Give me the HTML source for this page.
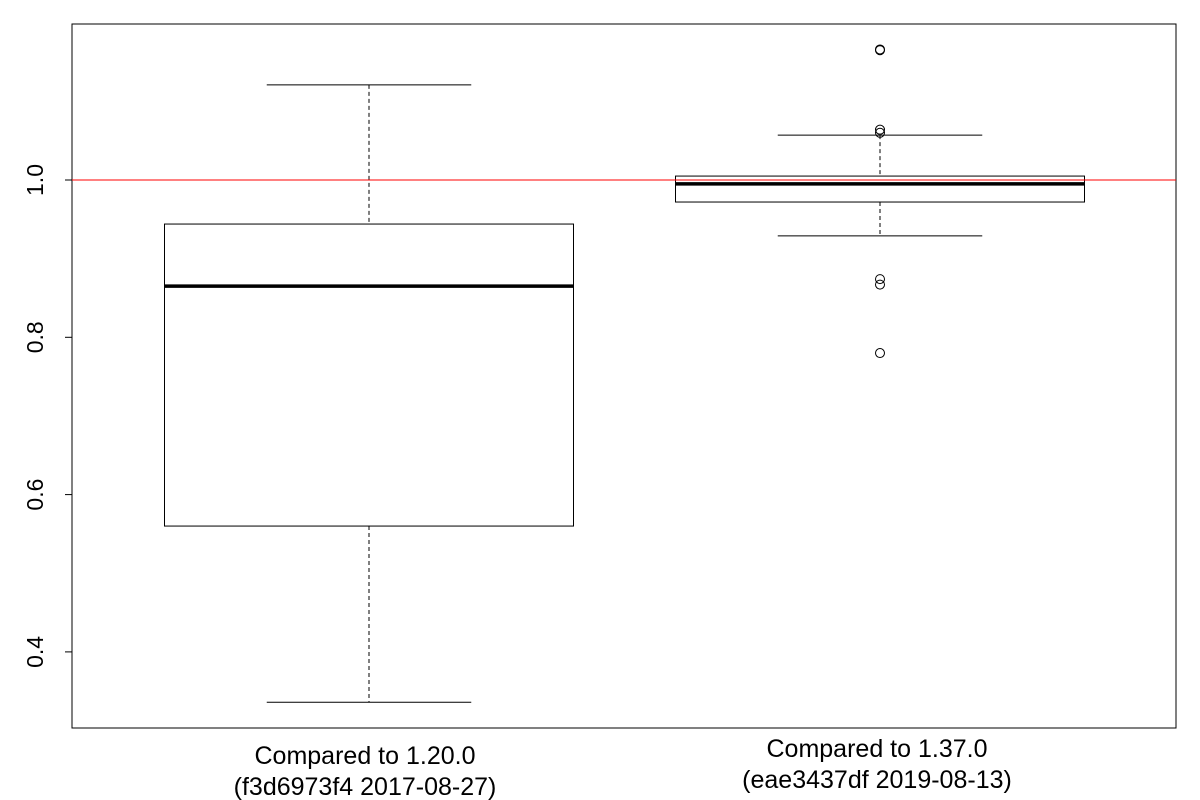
<!DOCTYPE html>
<html><head><meta charset="utf-8"><style>body{margin:0;background:#fff}svg{display:block;font-family:"Liberation Sans",sans-serif}</style></head>
<body>
<svg id="chart" width="1200" height="800" xmlns="http://www.w3.org/2000/svg"></svg>
<script>
const categories=["Compared to 1.20.0|(f3d6973f4 2017-08-27)","Compared to 1.37.0|(eae3437df 2019-08-13)"];
const whiskerLow=[0.336,0.929];
const q1=[0.560,0.972];
const median=[0.865,0.995];
const q3=[0.944,1.005];
const whiskerHigh=[1.121,1.057];
const outliers=[[],[1.165,1.166,1.064,1.060,0.874,0.867,0.780]];
const yTicks=[0.4,0.6,0.8,1.0];
const yTickLabels=["0.4","0.6","0.8","1.0"];
const refLine=1.0;

const NS="http://www.w3.org/2000/svg";
const svg=document.getElementById('chart');
const L=72,R=1176,T=24,B=728;
const y=v=>180+(1-v)*786.5;
const xc=i=>369+i*511;
const halfW=204.5;
function el(t,a,p){const e=document.createElementNS(NS,t);for(const k in a)e.setAttribute(k,a[k]);(p||svg).appendChild(e);return e;}

const frame=el('rect',{x:L,y:T,width:R-L,height:B-T,fill:'none',stroke:'#000','stroke-width':1});



categories.forEach((c,i)=>{
  const g=el('g',{});
  
  
  const cx=xc(i);
  el('line',{x1:cx,x2:cx,y1:y(whiskerHigh[i]),y2:y(q3[i]),stroke:'#000','stroke-dasharray':'4,3'},g);
  el('line',{x1:cx,x2:cx,y1:y(q1[i]),y2:y(whiskerLow[i]),stroke:'#000','stroke-dasharray':'4,3'},g);
  el('line',{x1:cx-halfW/2,x2:cx+halfW/2,y1:y(whiskerHigh[i]),y2:y(whiskerHigh[i]),stroke:'#000'},g);
  el('line',{x1:cx-halfW/2,x2:cx+halfW/2,y1:y(whiskerLow[i]),y2:y(whiskerLow[i]),stroke:'#000'},g);
  el('rect',{x:cx-halfW,y:y(q3[i]),width:2*halfW,height:y(q1[i])-y(q3[i]),fill:'none',stroke:'#000'},g);
  el('line',{x1:cx-halfW,x2:cx+halfW,y1:y(median[i]),y2:y(median[i]),stroke:'#000','stroke-width':3.5},g);
  outliers[i].forEach(o=>{
    const p=el('circle',{cx:cx,cy:y(o),r:4.5,fill:'none',stroke:'#000'},g);
    
    
  });
  const parts=c.split('|');
  const offs=i===0?[764,795]:[757,788];
  parts.forEach((s,j)=>{
    const t=el('text',{x:cx+(i===0?-4:-3),y:offs[j],'text-anchor':'middle','font-size':25},svg);
    t.textContent=s;
    
    
  });
});

const rl=el('line',{x1:L,x2:R,y1:y(refLine),y2:y(refLine),stroke:'#ff0000','stroke-width':1});



yTicks.forEach((v,i)=>{
  el('line',{x1:L-7,x2:L,y1:y(v),y2:y(v),stroke:'#000'});
  const t=el('text',{x:0,y:0,'text-anchor':'middle','font-size':23,transform:`translate(43,${y(v)}) rotate(-90)`});
  t.textContent=yTickLabels[i];
  
  
});
</script>
</body></html>
